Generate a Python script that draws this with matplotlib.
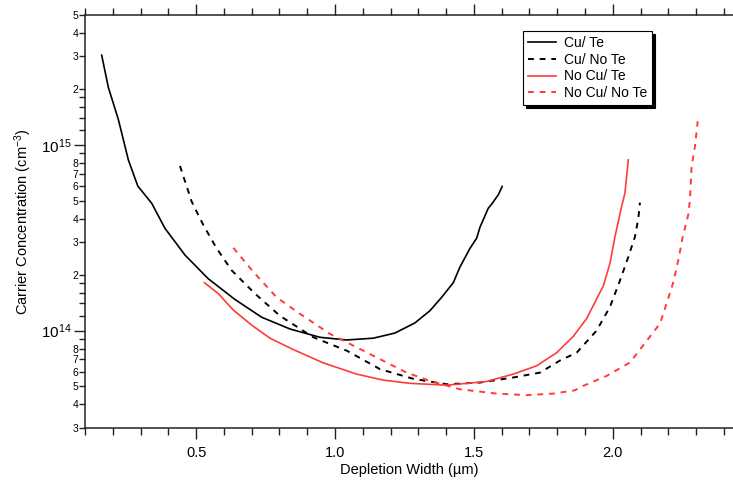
import math
import matplotlib
matplotlib.use("Agg")
import matplotlib.pyplot as plt
from matplotlib.ticker import FixedLocator, FuncFormatter, MultipleLocator

plt.rcParams['font.family'] = ['Liberation Sans', 'DejaVu Sans']
plt.rcParams['mathtext.default'] = 'regular'

# Cu / Te
cu_te_x = [0.16, 0.184, 0.22, 0.256, 0.29, 0.34, 0.388, 0.46, 0.544, 0.64, 0.736, 0.838,
           0.946, 1.042, 1.138, 1.216, 1.288, 1.342, 1.384, 1.426, 1.45, 1.486, 1.51,
           1.522, 1.552, 1.564, 1.588, 1.602]
cu_te_y = [3.04e15, 2.04e15, 1.37e15, 8.3e14, 6.0e14, 4.85e14, 3.55e14, 2.55e14, 1.9e14,
           1.47e14, 1.18e14, 1.02e14, 9.2e13, 8.9e13, 9.1e13, 9.7e13, 1.10e14, 1.28e14,
           1.51e14, 1.81e14, 2.2e14, 2.77e14, 3.14e14, 3.6e14, 4.56e14, 4.79e14,
           5.38e14, 5.97e14]

# Cu / No Te
cu_note_x = [0.442, 0.484, 0.526, 0.574, 0.628, 0.712, 0.802, 0.922, 1.042, 1.162, 1.282,
             1.402, 1.522, 1.642, 1.738, 1.81, 1.87, 1.942, 1.99, 2.026, 2.056, 2.08,
             2.092, 2.098]
cu_note_y = [7.7e14, 4.95e14, 3.7e14, 2.77e14, 2.11e14, 1.58e14, 1.2e14, 9.2e13, 7.8e13,
             6.2e13, 5.5e13, 5.14e13, 5.25e13, 5.59e13, 5.94e13, 6.9e13, 7.6e13, 1.0e14,
             1.34e14, 1.86e14, 2.49e14, 3.2e14, 4.0e14, 4.89e14]

# No Cu / Te
nocu_te_x = [0.53, 0.58, 0.634, 0.70, 0.766, 0.85, 0.958, 1.078, 1.174, 1.27, 1.402,
             1.546, 1.642, 1.726, 1.798, 1.858, 1.906, 1.966, 1.99, 2.008, 2.032,
             2.044, 2.056]
nocu_te_y = [1.81e14, 1.58e14, 1.29e14, 1.07e14, 9.1e13, 7.9e13, 6.7e13, 5.83e13, 5.41e13,
             5.2e13, 5.08e13, 5.32e13, 5.83e13, 6.46e13, 7.6e13, 9.3e13, 1.16e14,
             1.74e14, 2.3e14, 3.2e14, 4.66e14, 5.5e14, 8.3e14]

# No Cu / No Te
nocu_note_x = [0.634, 0.706, 0.79, 0.874, 0.982, 1.09, 1.186, 1.258, 1.342, 1.45, 1.582,
               1.69, 1.786, 1.864, 1.894, 1.978, 2.062, 2.122, 2.17, 2.194, 2.218,
               2.236, 2.252, 2.272, 2.278, 2.284, 2.296, 2.306]
nocu_note_y = [2.79e14, 2.07e14, 1.51e14, 1.23e14, 9.6e13, 7.96e13, 6.73e13, 5.94e13,
               5.36e13, 4.83e13, 4.58e13, 4.49e13, 4.58e13, 4.77e13, 5.04e13, 5.7e13,
               6.73e13, 8.8e13, 1.09e14, 1.4e14, 1.82e14, 2.39e14, 3.2e14, 4.2e14,
               5.06e14, 7.66e14, 9.8e14, 1.34e15]

red = '#ff3b3b'

fig = plt.figure(figsize=(7.33, 4.82), dpi=100)
ax = fig.add_axes([85 / 733, 54.3 / 482, 648 / 733, 412.7 / 482])

ax.plot(cu_te_x, cu_te_y, color='black', lw=1.2, label='Cu/ Te')
ax.plot(cu_note_x, cu_note_y, color='black', lw=1.4, ls=(0, (3, 3)), label='Cu/ No Te')
ax.plot(nocu_te_x, nocu_te_y, color=red, lw=1.2, label='No Cu/ Te')
ax.plot(nocu_note_x, nocu_note_y, color=red, lw=1.4, ls=(0, (3, 3)), label='No Cu/ No Te')

ax.set_yscale('log')
ax.set_xlim(0.1, 2.433)
ax.set_ylim(3e13, 5e15)

# x ticks
ax.xaxis.set_minor_locator(MultipleLocator(0.1))
ax.set_xticks([0.5, 1.0, 1.5, 2.0])
ax.set_xticklabels(['0.5', '1.0', '1.5', '2.0'])

# y ticks
ax.yaxis.set_major_locator(FixedLocator([1e14, 1e15]))
ax.yaxis.set_major_formatter(FuncFormatter(lambda v, p: '$10^{%d}$' % round(math.log10(v))))
minor = []
for d in [1e13, 1e14, 1e15]:
    for m in [1.2, 1.4, 1.6, 1.8, 2, 3, 4, 5, 6, 7, 8, 9]:
        if 3e13 <= m * d <= 5e15:
            minor.append(m * d)
ax.yaxis.set_minor_locator(FixedLocator(minor))


def minor_label(v, p):
    m = v / 10 ** math.floor(math.log10(v) + 1e-9)
    if abs(m - round(m)) < 1e-6 and 2 <= round(m) <= 8:
        return str(int(round(m)))
    return ''


ax.yaxis.set_minor_formatter(FuncFormatter(minor_label))

for s in ['left', 'bottom', 'top']:
    ax.spines[s].set_linewidth(1.1)
    ax.spines[s].set_color('#222222')
ax.spines['right'].set_visible(False)

ax.tick_params(axis='x', which='both', direction='out', top=True, bottom=True,
               labeltop=False, labelsize=10.5, width=1.0, color='#222222', pad=5)
ax.tick_params(axis='x', which='major', length=8)
ax.tick_params(axis='x', which='minor', length=5)
ax.tick_params(axis='y', which='both', direction='out', right=False, width=1.0,
               color='#222222')
ax.tick_params(axis='y', which='major', length=8, labelsize=11, pad=2)
ax.tick_params(axis='y', which='minor', length=4, labelsize=7.5, pad=1)

ax.set_xlabel('Depletion Width (µm)', fontsize=10.5, labelpad=2)
ax.set_ylabel('Carrier Concentration (cm$^{-3}$)', fontsize=10.5, labelpad=5)

leg = ax.legend(loc='upper left', bbox_to_anchor=((523 - 85) / 648, (427.7 - 31) / 412.7),
                frameon=True, fancybox=False, fontsize=10, handlelength=2.0,
                handletextpad=0.6, borderpad=0.35, labelspacing=0.2, borderaxespad=0,
                shadow={'color': 'black', 'alpha': 1})
leg.get_frame().set_edgecolor('black')
leg.get_frame().set_linewidth(0.8)

fig.savefig('out.png', dpi=100)
